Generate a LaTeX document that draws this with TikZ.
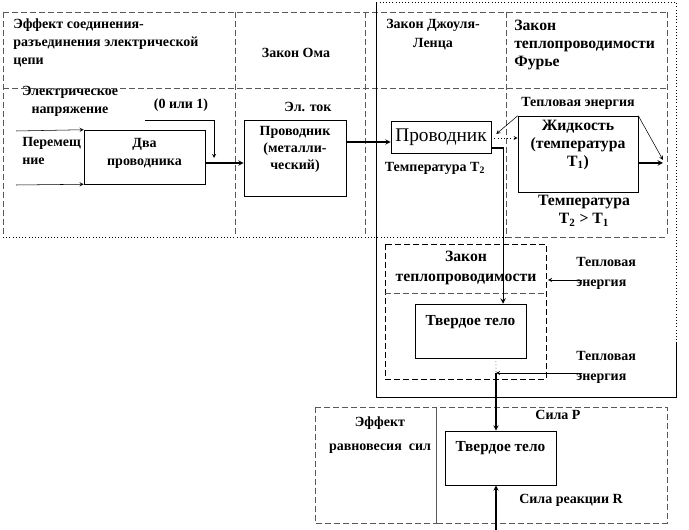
\documentclass[tikz,border=0pt]{standalone}
\usepackage{fontspec}
\setmainfont{Liberation Serif}
\usetikzlibrary{calc}

\tikzset{
  lbl/.style={font=\fontsize{10.5}{13.5}\selectfont\bfseries, align=center, inner sep=0pt},
  big/.style={font=\fontsize{11.8}{13.5}\selectfont\bfseries},
  blk/.style={draw, inner sep=0pt},
  zone/.style={dash pattern=on 4.5pt off 2.25pt, gray!70!black},
  arr/.style={->, >=stealth},
}

\begin{document}
\begin{tikzpicture}[x=0.75pt, y=-0.75pt]
\useasboundingbox (0,0) rectangle (689,530);

% labels
\node[lbl, align=left, anchor=west] (tcon) at (13,42.5) {Эффект соединения-\\разъединения электрической\\цепи};
\node[lbl] (tvolt) at (70,101) {Электрическое\\напряжение};
\node[lbl] (tbit) at (181,105) {(0 или 1)};
\node[lbl, align=left, anchor=west] (tmove) at (22,151) {Перемещ\\ние};
\node[lbl] (tohm) at (296,53) {Закон Ома};
\node[lbl] (tcur) at (308,107) {Эл. ток};
\node[lbl] (tjoule) at (433,34.5) {Закон Джоуля-\\[1pt]Ленца};
\node[lbl] (ttwo) at (435,168) {Температура T\textsubscript{2}};
\node[lbl, big, align=left, anchor=west] (tfour) at (514,45) {Закон\\теплопроводимости\\Фурье};
\node[lbl] (theat) at (578,103) {Тепловая энергия};
\node[lbl, big] (tcmp) at (584,211) {Температура\\T\textsubscript{2} > T\textsubscript{1}};
\node[lbl, big] (tlaw) at (466,268) {Закон\\[1.5pt]теплопроводимости};
\node[lbl, align=left, anchor=west] (theatb) at (576,273) {Тепловая\\[1.5pt]энергия};
\node[lbl, align=left, anchor=west] (theatc) at (576,367) {Тепловая\\[1.5pt]энергия};
\node[lbl] (teq) at (380,435) {Эффект\\[4.5pt]равновесия~~сил};
\node[lbl] (tp) at (558,415) {Сила P};
\node[lbl] (tr) at (571,500) {Сила реакции R};

% blocks
\node[blk, minimum width=90.75pt, minimum height=40.5pt] (dva) at (144.5,157) {};
\node[lbl] (dvat) at (144.5,153.5) {Два\\проводника};
\node[blk, minimum width=76.5pt, minimum height=57pt] (metal) at (295,158) {};
\node[lbl, font=\fontsize{10.5}{12.75}\selectfont\bfseries] (metalt) at (295,149) {Проводник\\(металли-\\ческий)};
\node[blk, minimum width=75pt, minimum height=24pt, font=\fontsize{14.5}{16}\selectfont] (prov) at (441,137) {Проводник};
\node[blk, minimum width=90pt, minimum height=57pt] (zhid) at (578,154) {};
\node[lbl, big] (zhidt) at (578,145) {Жидкость\\(температура\\T\textsubscript{1})};
\node[blk, minimum width=83.25pt, minimum height=40.5pt] (solid1) at (470.5,331) {};
\node[lbl, font=\fontsize{11.5}{13.5}\selectfont\bfseries] (solid1t) at (470.5,322) {Твердое тело};
\node[blk, minimum width=83.25pt, minimum height=40.5pt] (solid2) at (500.5,458) {};
\node[lbl, font=\fontsize{11.5}{13.5}\selectfont\bfseries] (solid2t) at (500.5,448) {Твердое тело};

% zones
\draw[zone] (3,12) -- (667,12);
\draw[zone] (3,88) -- (667,88);
\draw[zone] (3,12) -- (3,237);
\draw[zone] (235,12) -- (235,237);
\draw[zone] (365,12) -- (365,237);
\draw[zone] (506,12) -- (506,237);
\draw[zone] (667,12) -- (667,237);
\draw[dotted] (3,237) -- (506,237);
\draw[zone] (506,237) -- (667,237);

\draw (376,2) -- (376,397) -- (676,397) -- (676,343);
\draw[dotted] (676,343) -- (676,2) -- (376,2);

\draw[zone, black] (385,244) rectangle (546,379);
\draw[zone] (385,293) -- (546,293);

\draw[zone] (315,407) rectangle (436,523);
\draw[zone] (436,407) rectangle (667,523);

% connectors
\coordinate (in1) at (16,131);
\coordinate (in2) at (16,185);
\draw[arr] (in1) -- (dva.north west);
\draw[arr] (in2) -- (dva.south west);

\coordinate (bit) at (145,120);
\coordinate (bite) at (214,158);
\draw[arr] (bit) -| (bite);

\coordinate (o1) at ([yshift=-4.5pt]dva.east);
\draw[arr, thick] (o1) -- (o1 -| metal.west);

\coordinate (o2) at ([yshift=-3.75pt]prov.west);
\draw[arr, thick] (o2 -| metal.east) -- (o2);

\coordinate (o3) at ([yshift=-8.25pt]prov.east);
\coordinate (o3b) at ([xshift=24.4pt]solid1.north);
\draw[arr, thick] (o3) -| (o3b);

\coordinate (o4) at ([yshift=-0.75pt]prov.east);
\draw[arr, dotted] (o4) -- (o4 -| zhid.west);
\draw[arr] (zhid.north west) -- ([xshift=3.75pt, yshift=2.25pt]prov.east);

\coordinate (f1) at (663,160);
\coordinate (f2) at ([yshift=-6.75pt]zhid.east);
\draw[arr] (zhid.north east) -- (f1);
\draw[arr, thick] (f2) -- (f2 -| f1);

\coordinate (h1) at (582,280);
\coordinate (h1e) at (548,280);
\draw[arr] (h1) -- (h1e);

\coordinate (j2) at (496,373);
\coordinate (h2) at (582,373);
\draw[arr] (h2) -- (j2);

\coordinate (s1b) at ([xshift=19.1pt]solid1.south);
\draw[dotted] (s1b) -- (j2);
\draw[arr, thick] (j2) -- (j2 |- solid2.north);

\coordinate (rb) at (496,530);
\draw[arr, thick] (rb) -- (rb |- solid2.south);

\end{tikzpicture}
\end{document}
